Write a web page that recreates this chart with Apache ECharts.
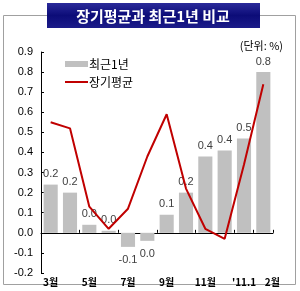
<!DOCTYPE html>
<html><head><meta charset="utf-8">
<script src="https://cdn.jsdelivr.net/npm/echarts@6/dist/echarts.min.js"></script>
<style>html,body{margin:0;padding:0;background:#fff}#c{width:300px;height:291px}</style>
</head><body><div id="c"></div>
<script>
var categories = ['3월','4월','5월','6월','7월','8월','9월','10월','11월','12월',"'11.1",'2월'];
var recentYear = [0.24,0.20,0.04,0.01,-0.07,-0.04,0.09,0.20,0.38,0.41,0.47,0.80];
var longTermAvg = [0.55,0.52,0.13,0.02,0.12,0.38,0.59,0.22,0.02,-0.03,0.34,0.74];
var shownLabels = ['3월','5월','7월','9월','11월',"'11.1",'2월'];
var titleText = '장기평균과 최근1년 비교';
var unitText = '(단위: %)';
var seriesNames = ['최근1년','장기평균'];

var FONT = '"Liberation Sans", Arial, "Noto Sans CJK KR", sans-serif';
var KFONT = '"Noto Sans CJK KR", "Liberation Sans", sans-serif';
var chart = echarts.init(document.getElementById('c'));
chart.setOption({
  animation: false,
  graphic: [
    {type:'rect', z:0, shape:{x:3.5,y:15.5,width:292,height:269}, style:{fill:'none',stroke:'#a0a0a0',lineWidth:1}},
    {type:'rect', z:10, shape:{x:47,y:3,width:213,height:25},
      style:{fill:new echarts.graphic.LinearGradient(0,0,0,1,[{offset:0,color:'#2a2a9a'},{offset:0.5,color:'#0c0c78'},{offset:1,color:'#1c1c8a'}])}},
    {type:'text', z:11, style:{x:153,y:16,text:titleText,fill:'#fff',font:'bold 15px '+KFONT,textAlign:'center',textVerticalAlign:'middle'}},
    {type:'text', z:11, style:{x:283,y:46,text:unitText,fill:'#000',font:'11px '+KFONT,textAlign:'right',textVerticalAlign:'middle'}}
  ],
  legend: {
    orient:'vertical', left:60, top:53, itemWidth:23, itemHeight:6, itemGap:6,
    textStyle:{fontFamily:KFONT,fontSize:12,color:'#000',padding:[0,0,0,-4]},
    data:[{name:seriesNames[0],icon:'rect'},{name:seriesNames[1],icon:'path://M0 0H23V2H0Z'}]
  },
  grid:{left:41,right:27,top:52,bottom:18},
  xAxis:{
    type:'category', data:categories, boundaryGap:true,
    axisLine:{onZero:true,lineStyle:{color:'#000',width:1}},
    axisTick:{show:true,inside:true,length:3,interval:1,lineStyle:{color:'#000'}},
    axisLabel:{interval:0,margin:4,fontFamily:KFONT,fontSize:10,fontWeight:'bold',color:'#000',
      formatter:function(v,i){if(shownLabels.indexOf(v)<0)return '';return i===11?'{s|'+v+'}':v;},
      rich:{s:{padding:[0,0,0,18],fontFamily:KFONT,fontSize:10,fontWeight:'bold',color:'#000'}}},
    splitLine:{show:false}
  },
  yAxis:{
    type:'value', min:-0.2, max:0.9, interval:0.1,
    axisLine:{show:true,lineStyle:{color:'#000'}},
    axisTick:{show:true,inside:true,length:3,lineStyle:{color:'#000'}},
    axisLabel:{formatter:function(v){return v.toFixed(1);},fontFamily:FONT,fontSize:11,color:'#000',margin:8},
    splitLine:{show:false}
  },
  series:[
    {name:seriesNames[0], type:'bar', barWidth:'73%', itemStyle:{color:'#c0c0c0'},
      data:recentYear.map(function(v){return {value:v,label:v<0?{position:'bottom',distance:8}:{position:'top'}};}),
      label:{show:true,distance:5,fontFamily:FONT,fontSize:11,color:'#404040',formatter:function(p){var s=p.value.toFixed(1);return s==='-0.0'?'0.0':s;}}
    },
    {name:seriesNames[1], type:'line', data:longTermAvg, symbol:'none', lineStyle:{color:'#c00000',width:2}, itemStyle:{color:'#c00000'}, z:5}
  ]
});
</script></body></html>
